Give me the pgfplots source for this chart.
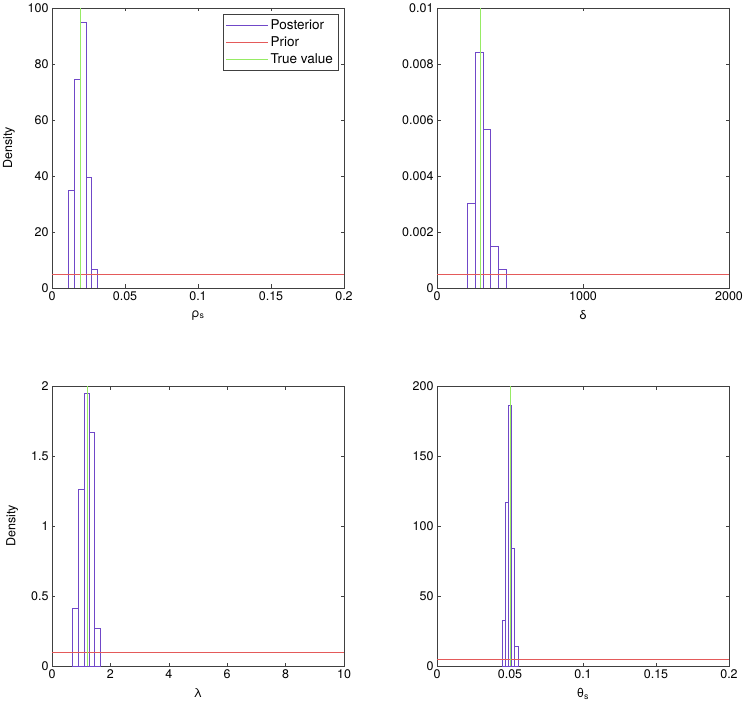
\documentclass[border=0pt]{standalone}
\usepackage{fontspec}
\setmainfont{TeX Gyre Heros}
\usepackage{pgfplots}
\pgfplotsset{compat=1.18}

\definecolor{histc}{RGB}{112,72,200}
\definecolor{priorc}{RGB}{228,90,90}
\definecolor{truec}{RGB}{150,235,100}

\pgfplotsset{
  panel/.style={
    scale only axis, width=292pt, height=280pt,
    font=\fontsize{12.5}{15}\selectfont,
    /pgf/number format/assume math mode=true,
    scaled x ticks=false, scaled y ticks=false,
    axis line style={black!75, line width=0.6pt}, tick style={black!75, line width=0.6pt},
    major tick length=3.5pt,
    every axis plot/.append style={line width=0.85pt},
    ymin=0,
    xlabel style={yshift=-3pt},
    ylabel style={yshift=6pt},
  },
}

\begin{document}
\begin{tikzpicture}
\useasboundingbox (-52pt,-432pt) rectangle (695pt,288pt);
% rho_s
\begin{axis}[panel, at={(0,0)},
    xmin=0, xmax=0.2, ymax=100,
    xtick={0,0.05,0.1,0.15,0.2}, xticklabels={0,0.05,0.1,0.15,0.2},
    ytick={0,20,40,60,80,100}, yticklabels={0,20,40,60,80,100},
    xlabel={ρ\textsubscript{s}}, ylabel={Density},
    legend style={at={(0.98,0.978)}, anchor=north east, draw=black!75,
      inner sep=3pt, row sep=2pt,
      font=\fontsize{13.5}{15}\selectfont},
    legend cell align=left,
    legend image code/.code={\draw[#1, line width=0.85pt] (0pt,0pt) -- (42pt,0pt);},
  ]
  \addlegendimage{histc}
  \addlegendentry{Posterior}
  \addlegendimage{priorc}
  \addlegendentry{Prior}
  \addlegendimage{truec}
  \addlegendentry{True value}
  \addplot[ybar interval, draw=histc, fill=none, forget plot] coordinates {
    (0.0113,35.0)(0.0153,74.4)(0.0193,95.0)(0.0233,39.4)(0.0273,6.8)(0.0313,0)
  };
  \addplot[priorc, forget plot] coordinates {(0,5)(0.2,5)};
  \addplot[truec, forget plot] coordinates {(0.0195,0)(0.0195,100)};
\end{axis}

% delta
\begin{axis}[panel, at={(385pt,0)},
    xmin=0, xmax=2000, ymax=0.01,
    xtick={0,1000,2000}, xticklabels={0,1000,2000},
    ytick={0,0.002,0.004,0.006,0.008,0.01},
    yticklabels={0,0.002,0.004,0.006,0.008,0.01},
    xlabel={δ},
  ]
  \addplot[ybar interval, draw=histc, fill=none] coordinates {
    (210,0.00303)(263,0.00843)(316,0.00565)(369,0.00147)(422,0.00068)(475,0)
  };
  \addplot[priorc] coordinates {(0,0.0005)(2000,0.0005)};
  \addplot[truec] coordinates {(300,0)(300,0.01)};
\end{axis}

% lambda
\begin{axis}[panel, at={(0,-378pt)},
    xmin=0, xmax=10, ymax=2,
    xtick={0,2,4,6,8,10}, xticklabels={0,2,4,6,8,10},
    ytick={0,0.5,1,1.5,2}, yticklabels={0,0.5,1,1.5,2},
    xlabel={λ}, ylabel={Density},
  ]
  \addplot[ybar interval, draw=histc, fill=none] coordinates {
    (0.71,0.41)(0.90,1.26)(1.10,1.95)(1.29,1.67)(1.47,0.27)(1.66,0)
  };
  \addplot[priorc] coordinates {(0,0.1)(10,0.1)};
  \addplot[truec] coordinates {(1.23,0)(1.23,2)};
\end{axis}

% theta_s
\begin{axis}[panel, at={(385pt,-378pt)},
    xmin=0, xmax=0.2, ymax=200,
    xtick={0,0.05,0.1,0.15,0.2}, xticklabels={0,0.05,0.1,0.15,0.2},
    ytick={0,50,100,150,200}, yticklabels={0,50,100,150,200},
    xlabel={θ\textsubscript{s}},
  ]
  \addplot[ybar interval, draw=histc, fill=none] coordinates {
    (0.0445,32.5)(0.0467,117)(0.0489,186)(0.0511,84)(0.0533,14)(0.0555,0)
  };
  \addplot[priorc] coordinates {(0,5)(0.2,5)};
  \addplot[truec] coordinates {(0.05,0)(0.05,200)};
\end{axis}
\end{tikzpicture}
\end{document}
